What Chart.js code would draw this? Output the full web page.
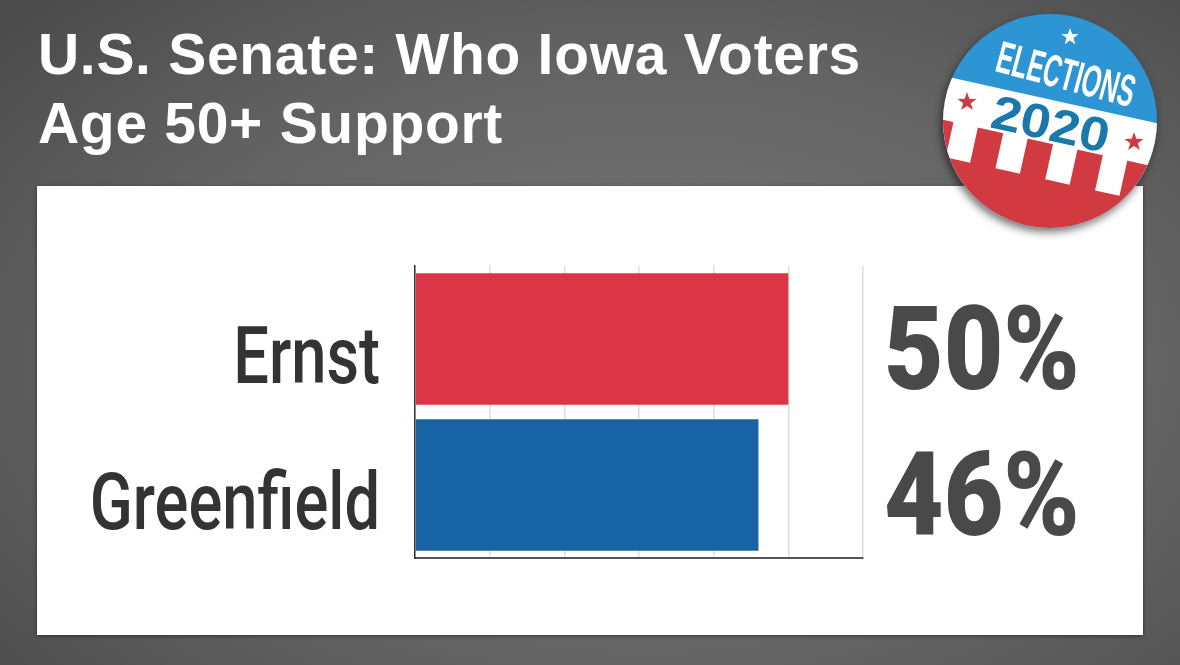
<!DOCTYPE html>
<html>
<head>
<meta charset="utf-8">
<script src="https://cdn.jsdelivr.net/npm/chart.js@4/dist/chart.umd.min.js"></script>
<style>
  html, body { margin: 0; padding: 0; }
  body {
    width: 1180px; height: 665px; overflow: hidden; position: relative;
    background: radial-gradient(ellipse 75% 80% at 55% 55%, #7b7b7b 0%, #626262 60%, #4a4a4a 100%);
  }
  #title {
    position: absolute; left: 38px; top: 20px;
    font-family: "Liberation Sans", Arial, sans-serif; font-weight: bold;
    font-size: 57px; line-height: 69px; color: #fff; letter-spacing: 0.7px;
  }
  #panel {
    position: absolute; left: 37px; top: 186px; width: 1106px; height: 449px;
    background: #fff; box-shadow: 0 1px 4px rgba(0,0,0,0.45);
  }
  #chart { position: absolute; left: 0; top: 0; }
  #badge { position: absolute; left: 0; top: 0; pointer-events: none; }
</style>
</head>
<body>
<div id="title">U.S. Senate: Who Iowa Voters<br>Age 50+ Support</div>
<div id="panel"></div>
<canvas id="chart" width="1180" height="665"></canvas>

<svg id="badge" width="1180" height="665" viewBox="0 0 1180 665">
  <defs>
    <clipPath id="disc"><circle cx="1050" cy="121" r="107"/></clipPath>
    <filter id="shadow" x="-20%" y="-20%" width="140%" height="140%">
      <feDropShadow dx="-2" dy="4" stdDeviation="4" flood-color="#000" flood-opacity="0.55"/>
    </filter>
  </defs>
  <circle cx="1050" cy="121" r="107" fill="#2e95d5" filter="url(#shadow)"/>
  <g clip-path="url(#disc)">
    <g transform="rotate(12.5 1050 121)">
      <rect x="900" y="100" width="300" height="200" fill="#ffffff"/>
      <rect x="900" y="143" width="300" height="200" fill="#d23a42"/>
      <rect x="956" y="140" width="25" height="39" fill="#ffffff"/>
      <rect x="1007" y="140" width="25" height="39" fill="#ffffff"/>
      <rect x="1058" y="140" width="25" height="39" fill="#ffffff"/>
      <rect x="1109" y="140" width="25" height="39" fill="#ffffff"/>
      <rect x="1160" y="140" width="25" height="39" fill="#ffffff"/>
    </g>
    <text x="0" y="0" transform="translate(1062 89) rotate(15) scale(0.55 1)"
          font-family="Liberation Sans, Arial" font-weight="bold" font-size="45"
          fill="#ffffff" text-anchor="middle">ELECTIONS</text>
    <text x="0" y="0" transform="translate(1047 140) rotate(12.5) scale(1.12 1)"
          font-family="Liberation Sans, Arial" font-weight="bold" font-size="48"
          fill="#1a78ad" text-anchor="middle">2020</text>
    <polygon transform="translate(1070 37) scale(0.9)" fill="#ffffff"
             points="0,-10 2.35,-3.24 9.51,-3.09 3.8,1.24 5.88,8.09 0,4 -5.88,8.09 -3.8,1.24 -9.51,-3.09 -2.35,-3.24"/>
    <polygon transform="translate(967 102) scale(1.0)" fill="#d23a42"
             points="0,-10 2.35,-3.24 9.51,-3.09 3.8,1.24 5.88,8.09 0,4 -5.88,8.09 -3.8,1.24 -9.51,-3.09 -2.35,-3.24"/>
    <polygon transform="translate(1134 142) scale(1.0)" fill="#d23a42"
             points="0,-10 2.35,-3.24 9.51,-3.09 3.8,1.24 5.88,8.09 0,4 -5.88,8.09 -3.8,1.24 -9.51,-3.09 -2.35,-3.24"/>
  </g>
</svg>

<script>
// data
var candidates = ['Ernst', 'Greenfield'];
var support = [50, 46];
var barColors = ['#dc3545', '#1763a4'];
var xTicks = [0, 10, 20, 30, 40, 50, 60];

// big labels: names left of the bars, percentages right of the chart
var sideLabels = {
    id: 'sideLabels',
    afterDraw: function(chart) {
        var ctx = chart.ctx;
        var yScale = chart.scales.y;
        ctx.save();
        candidates.forEach(function(name, i) {
            var y = yScale.getPixelForValue(i);

            // candidate name, narrow
            ctx.save();
            ctx.font = '500 80px Roboto, "Liberation Sans", sans-serif';
            ctx.fillStyle = '#333333';
            ctx.textAlign = 'right';
            ctx.textBaseline = 'alphabetic';
            ctx.translate(380, y + 44);
            ctx.scale(0.79, 1);
            ctx.fillText(name, 0, 0);
            ctx.restore();

            // percentage
            ctx.save();
            ctx.font = '900 117px Roboto, "Liberation Sans", sans-serif';
            ctx.fillStyle = '#494949';
            ctx.textAlign = 'left';
            ctx.textBaseline = 'alphabetic';
            ctx.translate(884, y + 50);
            ctx.scale(0.88, 1);
            ctx.fillText(support[i] + '%', 0, 0);
            ctx.restore();
        });
        ctx.restore();
    }
};

var ctx = document.getElementById('chart');
var chart = new Chart(ctx, {
    type: 'bar',
    data: {
        labels: candidates,
        datasets: [{
            data: support,
            backgroundColor: barColors,
            borderWidth: 0,
            barPercentage: 0.9,
            categoryPercentage: 1.0
        }]
    },
    options: {
        indexAxis: 'y',
        responsive: false,
        animation: false,
        events: [],
        layout: { padding: { left: 0, top: 266, right: 317, bottom: 107 } },
        plugins: {
            legend: { display: false },
            tooltip: { enabled: false },
            title: { display: false }
        },
        scales: {
            x: {
                min: xTicks[0],
                max: xTicks[xTicks.length - 1],
                afterBuildTicks: function(scale) {
                    scale.ticks = xTicks.map(function(v) { return { value: v }; });
                },
                ticks: { display: false },
                grid: { color: '#dedede', lineWidth: 1.5, drawTicks: false },
                border: { color: '#555555', width: 2 },
                afterFit: function(scale) { scale.height = 0; }
            },
            y: {
                ticks: { display: false },
                grid: { display: false, drawTicks: false },
                border: { color: '#333333', width: 1.5 },
                afterFit: function(scale) { scale.width = 415; }
            }
        }
    },
    plugins: [sideLabels]
});
</script>
</body>
</html>
